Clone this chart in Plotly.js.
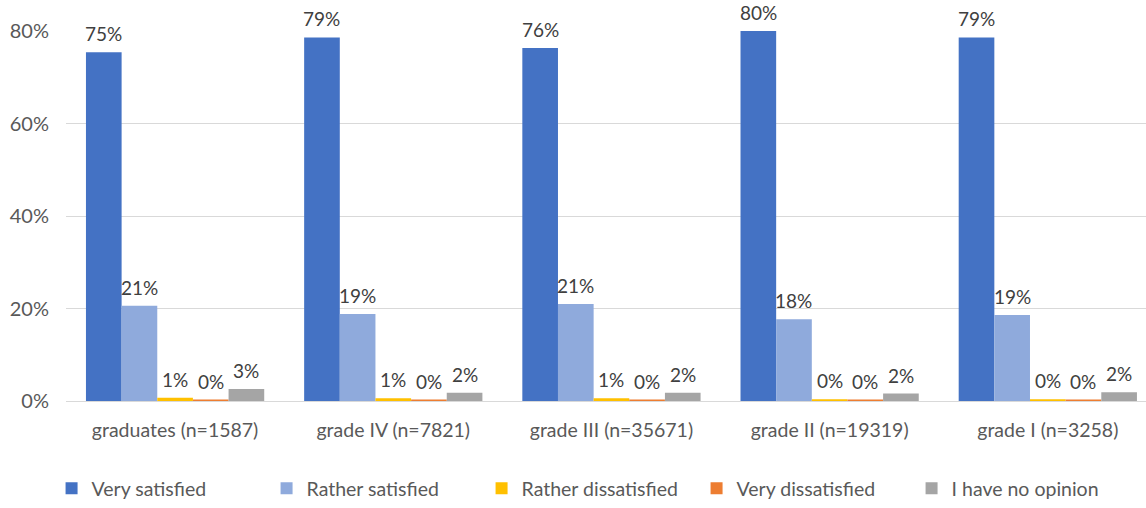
<!DOCTYPE html>
<html>
<head>
<meta charset="utf-8">
<script src="https://cdn.plot.ly/plotly-3.0.1.min.js"></script>
<style>html,body{margin:0;padding:0;background:#fff;}#chart{width:1146px;height:508px;}</style>
</head>
<body>
<div id="chart"></div>
<script>
const categories = ["graduates (n=1587)", "grade IV (n=7821)", "grade III (n=35671)", "grade II (n=19319)", "grade I (n=3258)"];
const seriesNames = ["Very satisfied", "Rather satisfied", "Rather dissatisfied", "Very dissatisfied", "I have no opinion"];
const verySatisfied = [75.4, 78.6, 76.3, 80.0, 78.6];
const ratherSatisfied = [20.6, 18.8, 21.0, 17.7, 18.6];
const ratherDissatisfied = [0.7, 0.6, 0.6, 0.4, 0.4];
const veryDissatisfied = [0.3, 0.3, 0.3, 0.3, 0.3];
const noOpinion = [2.6, 1.8, 1.8, 1.6, 1.9];
const yTicks = [0, 20, 40, 60, 80];

const colors = ["#4472C4", "#8FAADC", "#FFC000", "#ED7D31", "#A5A5A5"];
const allSeries = [verySatisfied, ratherSatisfied, ratherDissatisfied, veryDissatisfied, noOpinion];
const fontFam = "Lato, 'Open Sans', sans-serif";

const W = 1146, H = 508;
const margin = {l: 66, r: 0, t: 31, b: 107};
const xRange = [-0.5, 4.45];
const bargap = 0.183;
const catPx = (W - margin.l - margin.r) / (xRange[1] - xRange[0]);
const barPx = catPx * (1 - bargap) / allSeries.length;

const traces = allSeries.map((vals, i) => ({
  type: "bar",
  name: seriesNames[i],
  x: categories,
  y: vals,
  marker: {color: colors[i]},
  hoverinfo: "skip"
}));

const annotations = [];
allSeries.forEach((vals, i) => {
  vals.forEach((v, j) => {
    annotations.push({
      x: categories[j], y: v, xref: "x", yref: "y",
      text: Math.round(v) + "%",
      showarrow: false,
      xanchor: "center", yanchor: "bottom",
      xshift: (i - (allSeries.length - 1) / 2) * barPx,
      yshift: 5,
      font: {family: fontFam, size: 19, color: "#404040"}
    });
  });
});

const layout = {
  width: W, height: H,
  margin: margin,
  paper_bgcolor: "#fff", plot_bgcolor: "#fff",
  barmode: "group",
  bargap: bargap,
  bargroupgap: 0,
  font: {family: fontFam, size: 19, color: "#595959"},
  annotations: annotations,
  xaxis: {
    type: "category",
    range: xRange,
    showgrid: false,
    showline: false,
    zeroline: false,
    ticks: "",
    ticklabelstandoff: 15,
    tickfont: {family: fontFam, size: 19.5, color: "#595959"}
  },
  yaxis: {
    range: [0, 80],
    tickvals: yTicks,
    ticktext: yTicks.map(v => v + "%"),
    showgrid: true,
    gridcolor: "#D9D9D9",
    gridwidth: 1,
    zeroline: true,
    zerolinecolor: "#D9D9D9",
    zerolinewidth: 1,
    showline: false,
    ticks: "",
    ticklabelstandoff: 16,
    tickfont: {family: fontFam, size: 20, color: "#595959"}
  },
  showlegend: true,
  legend: {
    orientation: "h",
    xref: "container", yref: "container",
    x: 0.045, xanchor: "left",
    y: -0.037, yanchor: "bottom",
    itemwidth: 30,
    entrywidth: 170,
    entrywidthmode: "pixels",
    font: {family: fontFam, size: 19.5, color: "#595959"},
    itemclick: false
  }
};

Plotly.newPlot("chart", traces, layout, {displayModeBar: false, staticPlot: true});
</script>
</body>
</html>
